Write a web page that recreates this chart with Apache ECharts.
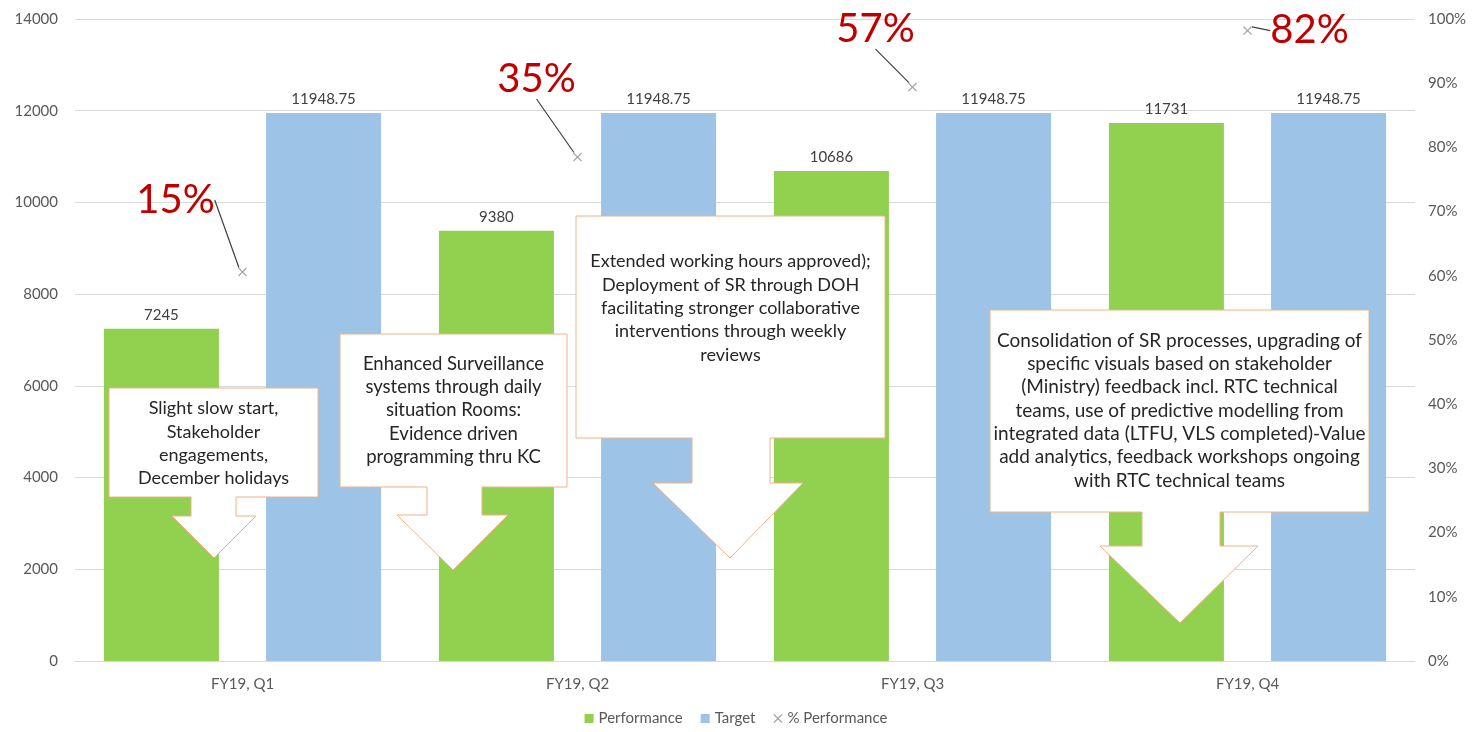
<!DOCTYPE html>
<html>
<head>
<meta charset="utf-8">
<script src="https://cdn.jsdelivr.net/npm/echarts@6/dist/echarts.min.js"></script>
<style>
html,body{margin:0;padding:0;background:#fff;}
#chart{width:1472px;height:732px;}
</style>
</head>
<body>
<div id="chart"></div>
<script>
// ---- data ----
const categories = ['FY19, Q1', 'FY19, Q2', 'FY19, Q3', 'FY19, Q4'];
const performance = [7245, 9380, 10686, 11731];
const target = [11948.75, 11948.75, 11948.75, 11948.75];
const pctPerformance = [0.606, 0.785, 0.894, 0.982];
const pctLabels = ['15%', '35%', '57%', '82%'];
const leftTicks = { min: 0, max: 14000, interval: 2000 };
const rightTicks = { min: 0, max: 1, interval: 0.1 };
const calloutTexts = [
  'Slight slow start,\nStakeholder\nengagements,\nDecember holidays',
  'Enhanced Surveillance\nsystems through daily\nsituation Rooms:\nEvidence driven\nprogramming thru KC',
  'Extended working hours approved);\nDeployment of SR through DOH\nfacilitating stronger collaborative\ninterventions through weekly\nreviews',
  'Consolidation of SR processes, upgrading of\nspecific visuals based on stakeholder\n(Ministry) feedback incl. RTC technical\nteams, use of predictive modelling from\nintegrated data (LTFU, VLS completed)-Value\nadd analytics, feedback workshops ongoing\nwith RTC technical teams'
];

// ---- layout (annotation geometry, pixels) ----
const labelOffsets = [[-67, -72], [-41, -78], [-37, -58], [62, 0]];
const callouts = [
  { box: [109, 388, 318, 497], shaft: [191, 236], headTop: 516, head: [172, 256], tip: [214, 558], textTop: 397, fs: 18 },
  { box: [340, 334, 567, 487], shaft: [427, 482], headTop: 515, head: [397, 508], tip: [453, 570], textTop: 352, fs: 18.5 },
  { box: [576, 216, 885, 438], shaft: [692, 770], headTop: 483, head: [653, 803], tip: [730, 558], textTop: 250, fs: 18 },
  { box: [990, 310, 1369, 512], shaft: [1142, 1220], headTop: 546, head: [1100, 1258], tip: [1180, 623], textTop: 329, fs: 19 }
];

const FONT = 'Lato, "Open Sans", sans-serif';
const xMarker = 'path://M0,1L1,0L5,4L9,0L10,1L6,5L10,9L9,10L5,6L1,10L0,9L4,5Z';

function calloutGraphics() {
  const els = [];
  callouts.forEach((c, i) => {
    const [l, t, r, b] = c.box;
    const pts = [
      [l, t], [r, t], [r, b], [c.shaft[1], b], [c.shaft[1], c.headTop],
      [c.head[1], c.headTop], c.tip, [c.head[0], c.headTop],
      [c.shaft[0], c.headTop], [c.shaft[0], b], [l, b]
    ];
    els.push({
      type: 'polygon', z: 50,
      shape: { points: pts },
      style: { fill: '#ffffff', stroke: '#f4b183', lineWidth: 1 }
    });
    els.push({
      type: 'text', z: 51,
      x: (l + r) / 2, y: c.textTop,
      style: {
        text: calloutTexts[i], fill: '#262626',
        font: c.fs + 'px ' + FONT, align: 'center', verticalAlign: 'top', lineHeight: 23.3
      }
    });
  });
  return els;
}

const chart = echarts.init(document.getElementById('chart'), null, { renderer: 'canvas' });
chart.setOption({
  animation: false,
  backgroundColor: '#ffffff',
  textStyle: { fontFamily: FONT },
  grid: { left: 75, right: 57, top: 19, bottom: 71, containLabel: false },
  legend: {
    bottom: 1,
    left: 'center',
    itemWidth: 9, itemHeight: 9, itemGap: 18,
    textStyle: { color: '#595959', fontSize: 15, fontFamily: FONT },
    data: [
      { name: 'Performance', icon: 'rect' },
      { name: 'Target', icon: 'rect' },
      { name: '% Performance', icon: xMarker, itemStyle: { color: '#a6a6a6' } }
    ]
  },
  xAxis: {
    type: 'category',
    data: categories,
    axisLine: { lineStyle: { color: '#d9d9d9' } },
    axisTick: { show: false },
    axisLabel: { color: '#595959', fontSize: 15, margin: 16, fontFamily: FONT }
  },
  yAxis: [
    {
      type: 'value', min: leftTicks.min, max: leftTicks.max, interval: leftTicks.interval,
      axisLine: { show: false }, axisTick: { show: false },
      splitLine: { lineStyle: { color: '#d9d9d9' } },
      axisLabel: { color: '#595959', fontSize: 15, margin: 17, fontFamily: FONT,
        formatter: v => String(v) }
    },
    {
      type: 'value', min: rightTicks.min, max: rightTicks.max, interval: rightTicks.interval,
      position: 'right',
      axisLine: { show: false }, axisTick: { show: false },
      splitLine: { show: false },
      axisLabel: { color: '#595959', fontSize: 15, margin: 13, fontFamily: FONT,
        formatter: v => Math.round(v * 100) + '%' }
    }
  ],
  series: [
    {
      name: 'Performance', type: 'bar', data: performance,
      barWidth: 115, barGap: '41%',
      itemStyle: { color: '#92d050' },
      label: { show: true, position: 'top', distance: 6, color: '#404040', fontSize: 15, fontFamily: FONT }
    },
    {
      name: 'Target', type: 'bar', data: target,
      barWidth: 115,
      itemStyle: { color: '#9dc3e6' },
      label: { show: true, position: 'top', distance: 6, color: '#404040', fontSize: 15, fontFamily: FONT }
    },
    {
      name: '% Performance', type: 'line', yAxisIndex: 1, data: pctPerformance,
      z: 60,
      symbol: xMarker, symbolSize: 9,
      itemStyle: { color: '#a6a6a6' },
      lineStyle: { width: 0, opacity: 0 },
      label: {
        show: true, position: 'inside', color: '#c00000', fontSize: 40, fontFamily: FONT,
        formatter: p => pctLabels[p.dataIndex]
      },
      labelLine: { show: true, lineStyle: { color: '#404040', width: 1.2 } },
      labelLayout: p => ({ dx: labelOffsets[p.dataIndex][0], dy: labelOffsets[p.dataIndex][1] })
    }
  ],
  graphic: calloutGraphics()
});
</script>
</body>
</html>
